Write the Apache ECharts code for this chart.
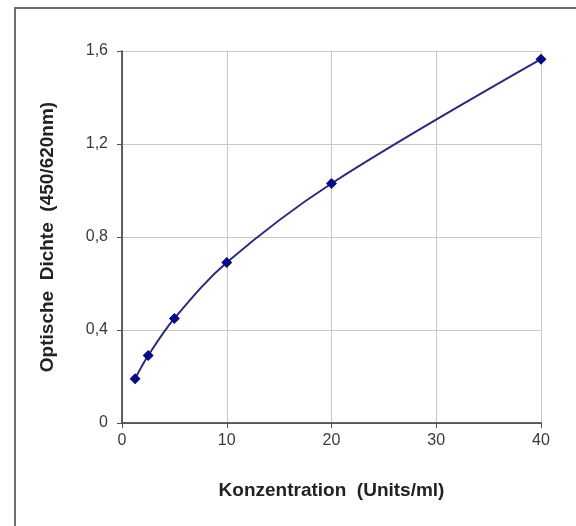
<!DOCTYPE html>
<html><head><meta charset="utf-8">
<script src="https://cdn.jsdelivr.net/npm/echarts@6/dist/echarts.min.js"></script>
<style>html,body{margin:0;padding:0;background:#fff}#c{width:576px;height:526px}</style>
</head><body><div id="c"></div>
<script>
const concentrations = [1.25, 2.5, 5, 10, 20, 40];
const odValues = [0.19, 0.29, 0.45, 0.69, 1.03, 1.565];
const xTicks = [0, 10, 20, 30, 40];
const yTicks = [0, 0.4, 0.8, 1.2, 1.6];
const xTitle = 'Konzentration  (Units/ml)';
const yTitle = 'Optische  Dichte  (450/620nm)';

const chart = echarts.init(document.getElementById('c'));
const font = 'Liberation Sans, Arial, sans-serif';
chart.setOption({
  animation: false,
  backgroundColor: '#fff',
  graphic: [{
    type: 'rect', shape: {x: 15, y: 8, width: 600, height: 560},
    style: {fill: 'none', stroke: '#6e6e6e', lineWidth: 2}
  }],
  grid: {left: 122, right: 35, top: 51, bottom: 103},
  xAxis: {
    type: 'value', min: 0, max: 40, interval: 10,
    name: xTitle, nameLocation: 'middle', nameGap: 58,
    nameTextStyle: {fontFamily: font, fontSize: 19, fontWeight: 'bold', color: '#222'},
    axisLine: {show: true, lineStyle: {color: '#333', width: 1.5}},
    axisTick: {show: true, length: 5, lineStyle: {color: '#555'}},
    axisLabel: {fontFamily: font, fontSize: 16, color: '#3a3a3a', margin: 10},
    splitLine: {show: true, lineStyle: {color: '#c8c8c8', width: 1}}
  },
  yAxis: {
    type: 'value', min: 0, max: 1.6, interval: 0.4,
    name: yTitle, nameLocation: 'middle', nameGap: 65, nameRotate: 90,
    nameTextStyle: {fontFamily: font, fontSize: 19, fontWeight: 'bold', color: '#222'},
    axisLine: {show: true, lineStyle: {color: '#333', width: 1.5}},
    axisTick: {show: true, length: 5, lineStyle: {color: '#555'}},
    axisLabel: {fontFamily: font, fontSize: 16, color: '#3a3a3a', margin: 14,
      formatter: v => String(Math.round(v * 10) / 10).replace('.', ',')},
    splitLine: {show: true, lineStyle: {color: '#c8c8c8', width: 1}}
  },
  series: [{
    type: 'line',
    data: concentrations.map((c, i) => [c, odValues[i]]),
    smooth: 0.35,
    symbol: 'diamond', symbolSize: 11,
    itemStyle: {color: '#0a0a82'},
    lineStyle: {color: '#2a2a7a', width: 2}
  }]
});
</script></body></html>
